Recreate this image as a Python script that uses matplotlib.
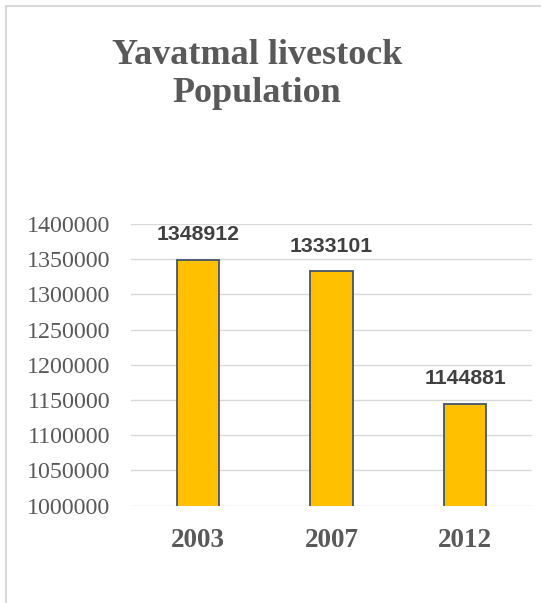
import matplotlib
matplotlib.use("Agg")
import matplotlib.pyplot as plt
from matplotlib.patches import Rectangle

years = ["2003", "2007", "2012"]
population = [1348912, 1333101, 1144881]
yticks = [1000000, 1050000, 1100000, 1150000, 1200000, 1250000, 1300000, 1350000, 1400000]

W, H = 541, 603
fig = plt.figure(figsize=(W/100, H/100), dpi=100)
fig.patch.set_facecolor("white")

# outer chart border (left & top visible)
fig.add_artist(Rectangle((6/W, -0.1), 1.2, (H-6)/H + 0.1, transform=fig.transFigure,
                         fill=False, edgecolor="#d9d9d9", linewidth=1.5))

ax = fig.add_axes([131/W, 97.3/H, 401/W, 281.7/H])
x = range(len(years))
ax.bar(x, population, width=0.315, color="#FFC000", edgecolor="#44546A", linewidth=1.3, zorder=3)
ax.set_ylim(1000000, 1400000)
ax.set_xlim(-0.5, 2.5)
ax.set_yticks(yticks)
ax.set_yticklabels([str(t) for t in yticks], fontfamily="Liberation Serif", fontsize=17.3, color="#595959")
ax.set_xticks(list(x))
ax.set_xticklabels(years, fontfamily="Liberation Serif", fontsize=19.5, fontweight="bold", color="#595959")
ax.tick_params(axis="y", length=0, pad=15)
ax.tick_params(axis="x", length=0, pad=16)
for s in ax.spines.values():
    s.set_visible(False)
ax.grid(axis="y", color="#d9d9d9", linewidth=1.0, zorder=0)
ax.set_axisbelow(True)

for xi, v in zip(x, population):
    ax.annotate(str(v), (xi, v), xytext=(0, 25), textcoords="offset pixels",
                ha="center", va="center", fontfamily="Liberation Sans", fontweight="bold",
                fontsize=15.3, color="#404040")

fig.text(257/W, 1 - 75/H, "Yavatmal livestock\nPopulation", ha="center", va="center",
         fontfamily="Liberation Serif", fontweight="bold", fontsize=26, color="#595959",
         linespacing=1.2)

fig.savefig("out.png", dpi=100)
